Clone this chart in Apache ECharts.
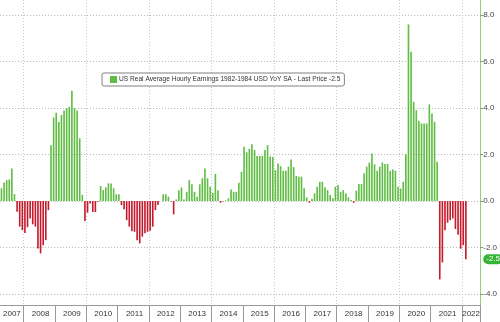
<!DOCTYPE html>
<html>
<head>
<meta charset="utf-8">
<script src="https://cdn.jsdelivr.net/npm/echarts@6/dist/echarts.min.js"></script>
<style>
  html, body { margin: 0; padding: 0; background: #ffffff; }
  #chart { width: 500px; height: 322px; }
</style>
</head>
<body>
<div id="chart"></div>
<script>
// US real average hourly earnings, YoY %, monthly from April 2007 to February 2022
const seriesName = 'US Real Average Hourly Earnings 1982-1984 USD YoY SA - Last Price -2.5';
const firstYear = 2007;
const firstMonth = 4;          // April
const trailingEmptyMonths = 5; // blank space after the last observation
const lastPrice = -2.5;
const yTickValues = [-4, -2, 0, 2, 4, 6, 8];

const realEarningsYoY = [
  // 2007 (Apr-Dec)
  0.55, 0.8, 0.9, 0.93, 1.4, 0.3, -0.46, -1.1, -1.25,
  // 2008
  -1.37, -1.12, -0.75, -1.0, -1.1, -2.04, -2.25, -1.9, -1.68, -0.39, 2.4, 3.6,
  // 2009
  3.8, 3.4, 3.7, 3.9, 4.0, 4.05, 4.75, 4.0, 3.9, 2.7, 0.27, -0.86,
  // 2010
  -0.5, -0.1, -0.47, -0.47, -0.03, 0.65, 0.47, 0.59, 0.76, 0.76, 0.55, 0.29,
  // 2011
  0.29, -0.17, -0.35, -0.82, -1.1, -1.3, -1.32, -1.68, -1.82, -1.53, -1.38, -1.32,
  // 2012
  -1.28, -1.1, -0.39, -0.17, 0.0, 0.29, 0.29, 0.19, -0.02, -0.57, 0.07, 0.47,
  // 2013
  0.59, 0.07, 0.4, 0.9, 0.72, 0.4, 0.19, 0.72, 0.98, 1.4, 0.98, 0.62,
  // 2014
  0.35, 1.17, 0.47, -0.07, -0.02, 0.02, 0.12, 0.5, 0.4, 0.4, 0.79, 1.26,
  // 2015
  2.34, 2.1, 2.25, 2.45, 2.2, 1.94, 1.94, 1.94, 2.2, 2.4, 1.92, 1.9,
  // 2016
  1.33, 1.62, 1.5, 1.3, 1.3, 1.48, 1.79, 1.46, 1.08, 1.05, 1.05, 0.55,
  // 2017
  0.16, -0.07, 0.1, 0.33, 0.62, 0.83, 0.83, 0.59, 0.47, 0.26, 0.12, 0.62,
  // 2018
  0.69, 0.4, 0.47, 0.33, 0.16, 0.05, -0.07, 0.45, 0.73, 0.73, 1.2, 1.48,
  // 2019
  1.66, 2.05, 1.58, 1.3, 1.48, 1.66, 1.59, 1.59, 1.3, 1.36, 1.3, 0.62,
  // 2020
  0.54, 0.83, 2.02, 7.6, 6.42, 4.27, 3.91, 3.46, 3.34, 3.34, 3.34, 4.16,
  // 2021
  3.77, 3.41, 1.69, -3.37, -2.64, -1.25, -0.93, -0.82, -0.75, -1.2, -1.45, -2.05,
  // 2022 (Jan-Feb)
  -1.9, -2.5
];

const GREEN = '#5ebd42';
const RED = '#c41a2b';

// Month categories "YYYY-MM", including blank months at the end
const months = [];
for (let k = 0; k < realEarningsYoY.length + trailingEmptyMonths; k++) {
  const m0 = firstMonth - 1 + k;
  const y = firstYear + Math.floor(m0 / 12);
  const m = (m0 % 12) + 1;
  months.push(y + '-' + String(m).padStart(2, '0'));
}

// One year label per year, on the middle month of that year's span
const yearLabelIndex = {};
(function () {
  const spans = {};
  months.forEach((c, i) => {
    const y = c.slice(0, 4);
    if (!spans[y]) spans[y] = [i, i];
    spans[y][1] = i;
  });
  Object.keys(spans).forEach(y => {
    const s = spans[y];
    yearLabelIndex[Math.ceil((s[0] + s[1]) / 2)] = true;
  });
})();

const isJanuary = (i, v) => v.slice(5) === '01';
const isEvenJanuary = (i, v) => v.slice(5) === '01' && (+v.slice(0, 4)) % 2 === 0;

const chart = echarts.init(document.getElementById('chart'), null, { renderer: 'canvas' });

chart.setOption({
  animation: false,
  backgroundColor: '#ffffff',
  textStyle: { fontFamily: 'Liberation Sans, Arial, sans-serif' },
  grid: { left: 0, right: 19, top: 0, bottom: 17, containLabel: false },
  legend: {
    left: 102,
    top: 73,
    selectedMode: false,
    icon: 'rect',
    itemWidth: 7,
    itemHeight: 7,
    itemGap: 0,
    padding: [3, 4, 3, 8],
    backgroundColor: '#ffffff',
    borderColor: '#808080',
    borderWidth: 1,
    borderRadius: 2,
    textStyle: { fontSize: 6.6, color: '#333333', padding: [0, 0, 0, -3] },
    data: [seriesName]
  },
  xAxis: {
    type: 'category',
    data: months,
    boundaryGap: true,
    axisLine: { show: true, onZero: false, lineStyle: { color: '#9a9a9a', width: 1 } },
    axisTick: { show: true, interval: isJanuary, length: 18, lineStyle: { color: '#9a9a9a' } },
    axisLabel: {
      show: true,
      interval: (i) => !!yearLabelIndex[i],
      formatter: (v) => v.slice(0, 4),
      fontSize: 8,
      color: '#333333',
      margin: 5
    },
    splitLine: {
      show: true,
      interval: isEvenJanuary,
      lineStyle: { color: '#c8c8c8', type: [1, 2], width: 1 }
    }
  },
  yAxis: {
    type: 'value',
    position: 'right',
    min: -4.47,
    max: 8.65,
    axisLine: { show: true, lineStyle: { color: '#8fd07a', width: 1 } },
    axisTick: { show: true, customValues: yTickValues, length: 3, lineStyle: { color: '#7a9a70' } },
    axisLabel: {
      show: true,
      customValues: yTickValues,
      formatter: (v) => v.toFixed(1),
      fontSize: 8,
      color: '#444444',
      margin: 3
    },
    splitLine: { show: true, lineStyle: { color: '#b4b4b4', type: [1, 2], width: 1 } }
  },
  series: [{
    type: 'bar',
    name: seriesName,
    barWidth: '62%',
    itemStyle: { color: GREEN },
    data: realEarningsYoY.map(v => ({ value: v, itemStyle: { color: v >= 0 ? GREEN : RED } })),
    markLine: {
      silent: true,
      symbol: ['none', 'none'],
      lineStyle: { color: 'rgba(0,0,0,0)', width: 1, type: 'solid' },
      data: [{ yAxis: lastPrice }],
      label: {
        show: true,
        position: 'end',
        distance: 3,
        formatter: () => lastPrice.toFixed(1),
        backgroundColor: '#35b535',
        color: '#ffffff',
        fontSize: 8,
        borderRadius: 5,
        padding: [1, 3, 1, 3]
      }
    }
  }]
});
</script>
</body>
</html>
